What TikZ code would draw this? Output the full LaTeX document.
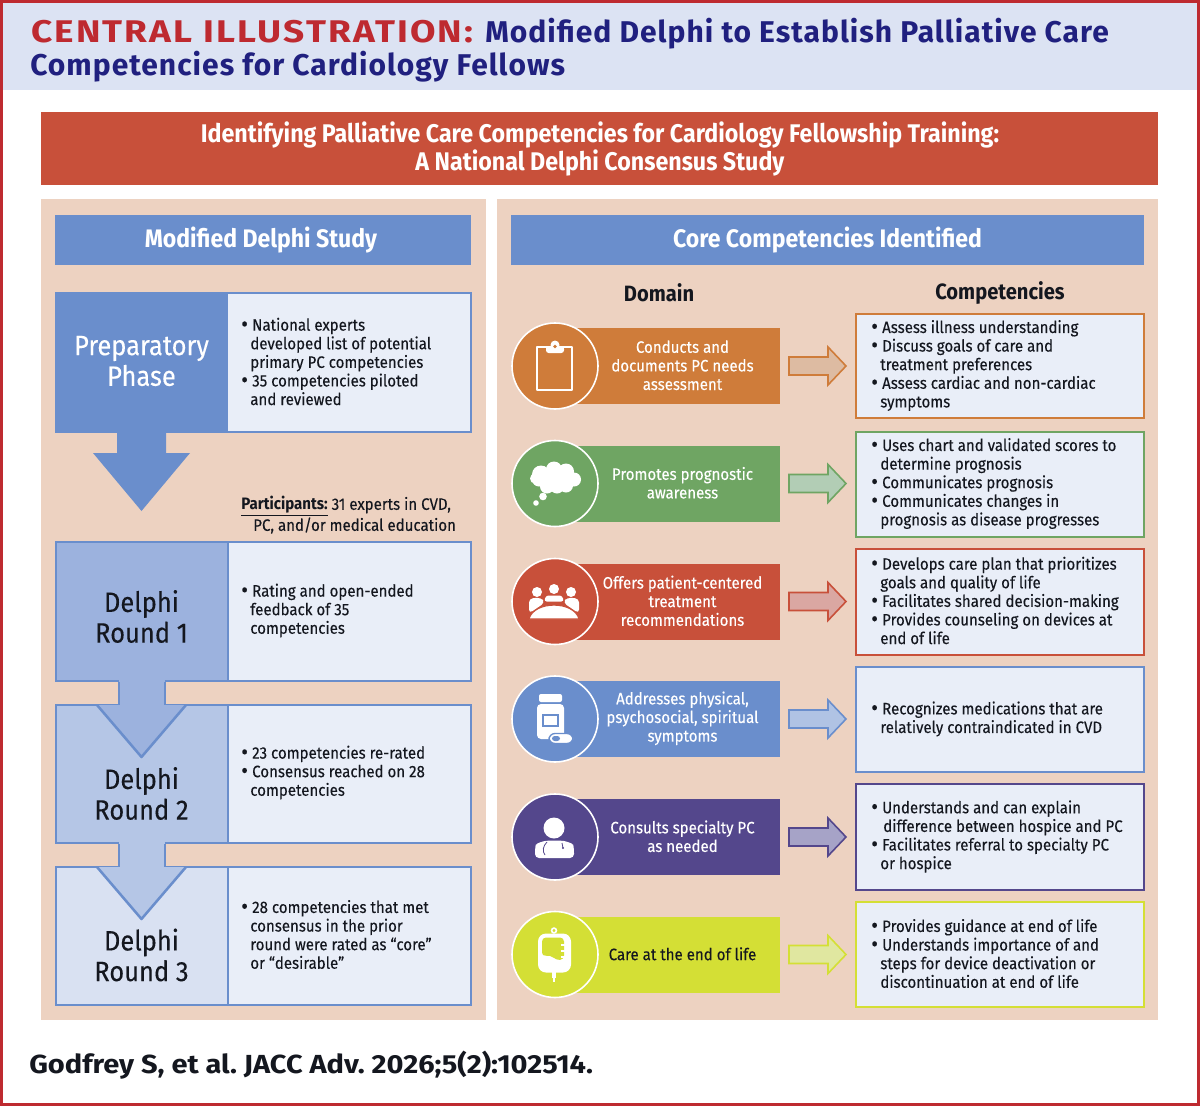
\documentclass[tikz,border=0pt]{standalone}
\usepackage{fontspec}
\setmainfont[FakeStretch=0.91,UprightFeatures={FakeBold=0.2}]{Fira Sans}
\newfontfamily\titlefont[LetterSpace=3.4]{Fira Sans}
\newfontfamily\redfont[FakeStretch=1.18,LetterSpace=6.7]{Fira Sans}
\newfontfamily\citefont[FakeStretch=1.11]{Fira Sans}
\usetikzlibrary{calc}
\definecolor{jred}{HTML}{BE2A30}
\definecolor{headbg}{HTML}{DCE3F3}
\definecolor{navy}{HTML}{20207F}
\definecolor{brick}{HTML}{C8503A}
\definecolor{peach}{HTML}{EDD2C1}
\definecolor{blue1}{HTML}{6A8ECC}
\definecolor{blue2}{HTML}{9CB2DE}
\definecolor{blue3}{HTML}{B5C6E6}
\definecolor{blue4}{HTML}{D9E1F2}
\definecolor{pale}{HTML}{E9EEF8}
\definecolor{ink}{HTML}{14171F}
\definecolor{orng}{HTML}{CF7C3A}
\definecolor{grn}{HTML}{6FA563}
\definecolor{purp}{HTML}{54478C}
\definecolor{yel}{HTML}{D4DF35}
\newcommand{\bl}{\makebox[8.2pt][l]{\smash{\raisebox{-0.8pt}{\fontsize{17}{13}\selectfont •}}}}
\newcommand{\cn}{\hspace*{6.8pt}}
\tikzset{
  px/.style={x=0.75pt,y=-0.75pt},
  body/.style={anchor=west,inner sep=0pt,align=left,text=ink,font=\fontsize{12.4}{13.95}\selectfont},
  dom/.style={anchor=center,inner sep=0pt,align=center,text=white,font=\fontsize{12.4}{13.95}\selectfont},
  big/.style={anchor=center,inner sep=0pt,align=center,font=\fontsize{21}{23}\selectfont},
  hd/.style={anchor=center,inner sep=0pt,align=center,text=white,font=\fontsize{19}{21}\selectfont\bfseries},
  sub/.style={anchor=center,inner sep=0pt,text=ink,font=\fontsize{16.6}{18}\selectfont\bfseries},
  edge/.style={line width=1.9pt,draw=blue1},
}
% \rowdom{name}{y}{colour}{text colour}{text}
\newcommand{\rowdom}[5]{%
  \fill[#3] (570,#2-38) rectangle (780,#2+38);
  \node[dom,text=#4] (#1lab) at (682.5,#2-0.7) {#5};
  \filldraw[#3,draw=white,line width=1.2pt] (555,#2) circle (43);
  \coordinate (#1arr) at (789,#2);
  \filldraw[#3!45!pale,draw=#3,line width=1.2pt]
    (789,#2-9) -- (828,#2-9) -- (828,#2-19) -- (846,#2) -- (828,#2+19) -- (828,#2+9) -- (789,#2+9) -- cycle;
}
\begin{document}
\frenchspacing
\begin{tikzpicture}[px]
\useasboundingbox (0,0) rectangle (1200,1106);
\fill[white] (0,0) rectangle (1200,1106);
\fill[headbg] (0,0) rectangle (1200,90);
\draw[jred,line width=2.4pt] (1.5,1.5) rectangle (1198.5,1104.5);
% title
\node[anchor=base west,inner sep=0pt,font=\fontsize{23.5}{28}\selectfont,text=jred] (t0) at (31,42.5)
  {\redfont\bfseries CENTRAL ILLUSTRATION:};
\node[anchor=base west,inner sep=0pt,font=\fontsize{22.5}{28}\selectfont,text=navy] (t1) at (485,42.5)
  {\titlefont\bfseries Modified Delphi to Establish Palliative Care};
\node[anchor=base west,inner sep=0pt,font=\fontsize{22.5}{28}\selectfont,text=navy] (t2) at (30,76)
  {\titlefont\bfseries Competencies for Cardiology Fellows};
% banner
\fill[brick] (41,112) rectangle (1158,185);
\node[anchor=center,inner sep=0pt,align=center,text=white,font=\fontsize{19.15}{21}\selectfont\bfseries] (banner) at (600,149)
  {Identifying Palliative Care Competencies for Cardiology Fellowship Training:\\A National Delphi Consensus Study};
% panels
\fill[peach] (41,199) rectangle (486,1020);
\fill[peach] (497,199) rectangle (1158,1020);
\fill[blue1] (55,215) rectangle (471,265);
\fill[blue1] (511,215) rectangle (1144,265);
\node[hd] (hl) at (261,240) {Modified Delphi Study};
\node[hd] (hr) at (827.5,240) {Core Competencies Identified};
% left column boxes
\filldraw[pale,edge] (56,293) rectangle (471,432);
\fill[blue1] (55,292) rectangle (228,433);
\filldraw[pale,edge] (56,542) rectangle (471,681);
\filldraw[blue2,edge] (56,542) rectangle (228,681);
\filldraw[pale,edge] (56,705) rectangle (471,843);
\filldraw[blue3,edge] (56,705) rectangle (228,843);
\filldraw[pale,edge] (56,867) rectangle (471,1005);
\filldraw[blue4,edge] (56,867) rectangle (228,1005);
% block arrows
\fill[blue1] (117,433) -- (166,433) -- (166,453) -- (190,453) -- (141.5,511) -- (93,453) -- (117,453) -- cycle;
\fill[blue2] (119,680) rectangle (165,706);
\fill[blue2] (97,705) -- (186,705) -- (141.5,757) -- cycle;
\draw[edge] (119,682) -- (119,705);
\draw[edge] (165,682) -- (165,705);
\draw[edge,line join=round] (97,705) -- (141.5,757) -- (186,705);
\fill[blue3] (119,842) rectangle (165,868);
\fill[blue3] (97,867) -- (186,867) -- (141.5,919) -- cycle;
\draw[edge] (119,844) -- (119,867);
\draw[edge] (165,844) -- (165,867);
\draw[edge,line join=round] (97,867) -- (141.5,919) -- (186,867);
% left labels
\node[big,text=white] (pp) at (141.5,361) {Preparatory\\Phase};
\node[big,text=ink] (r1) at (141.5,616.5) {Delphi\\Round 1};
\node[big,text=ink] (r2) at (141.5,793.5) {Delphi\\Round 2};
\node[big,text=ink] (r3) at (141.5,955) {Delphi\\Round 3};
\node[body] (b0) at (241,361.5) {\bl National experts\\\cn developed list of potential\\\cn primary PC competencies\\\bl 35 competencies piloted\\\cn and reviewed};
\node[body] (part) at (241,515) {\underline{\textbf{Participants:}} 31 experts in CVD,\\\hspace*{9pt}PC, and/or medical education};
\node[body] (b1) at (241,610.5) {\bl Rating and open-ended\\\cn feedback of 35\\\cn competencies};
\node[body] (b2) at (241,772.5) {\bl 23 competencies re-rated\\\bl Consensus reached on 28\\\cn competencies};
\node[body] (b3) at (241,934.5) {\bl 28 competencies that met\\\cn consensus in the prior\\\cn round were rated as “core”\\\cn or “desirable”};
% right column heads
\node[sub] (hdom) at (659,292.5) {Domain};
\node[sub] (hcomp) at (1000,293) {Competencies};
% domain rows
\rowdom{a}{366}{orng}{white}{Conducts and\\documents PC needs\\assessment}
\rowdom{b}{483.5}{grn}{white}{Promotes prognostic\\awareness}
\rowdom{c}{601.5}{brick}{white}{Offers patient-centered\\treatment\\recommendations}
\rowdom{d}{719}{blue1}{white}{Addresses physical,\\psychosocial, spiritual\\symptoms}
\rowdom{e}{837}{purp}{white}{Consults specialty PC\\as needed}
\rowdom{f}{954.5}{yel}{ink}{Care at the end of life}
% competency boxes
\filldraw[pale,draw=orng,line width=1.3pt] (856,314) rectangle (1144,418);
\filldraw[pale,draw=grn,line width=1.3pt] (856,432) rectangle (1144,537);
\filldraw[pale,draw=brick,line width=1.3pt] (856,549) rectangle (1144,655);
\filldraw[pale,draw=blue1,line width=1.3pt] (856,667) rectangle (1144,772);
\filldraw[pale,draw=purp,line width=1.3pt] (856,784) rectangle (1144,890);
\filldraw[pale,draw=yel,line width=1.3pt] (856,902) rectangle (1144,1007);
\node[body] (c1) at (871,365.5) {\bl Assess illness understanding\\\bl Discuss goals of care and\\\cn treatment preferences\\\bl Assess cardiac and non-cardiac\\\cn symptoms};
\node[body] (c2) at (871,483.5) {\bl Uses chart and validated scores to\\\cn determine prognosis\\\bl Communicates prognosis\\\bl Communicates changes in\\\cn prognosis as disease progresses};
\node[body] (c3) at (871,600.5) {\bl Develops care plan that prioritizes\\\cn goals and quality of life\\\bl Facilitates shared decision-making\\\bl Provides counseling on devices at\\\cn end of life};
\node[body] (c4) at (871,719) {\bl Recognizes medications that are\\\cn relatively contraindicated in CVD};
\node[body] (c5) at (871,836.5) {\bl Understands and can explain\\\hspace*{9pt}difference between hospice and PC\\\bl Facilitates referral to specialty PC\\\cn or hospice};
\node[body] (c6) at (871,953.5) {\bl Provides guidance at end of life\\\bl Understands importance of and\\\cn steps for device deactivation or\\\cn discontinuation at end of life};
% icon: clipboard
\begin{scope}[shift={(555,366)}]
  \draw[white,line width=1.6pt,line join=round] (-18,-19) rectangle (17,24);
  \fill[white,rounded corners=2] (-9,-20) rectangle (9,-13);
  \fill[white] (0,-21) circle (4.5);
  \fill[orng] (0,-19.5) circle (1.8);
\end{scope}
% icon: thought cloud
\begin{scope}[shift={(555,483.5)}]
  \foreach \cx/\cy/\rr in {-3/-4/12,-14/-9/9,-16/-4/7,-1/-14/8,11/-12/8,19/-4/7,-8/3/7,2/3/7,11/2/7,-20/-5/5}
    \fill[white] (\cx,\cy) circle (\rr);
  \fill[white] (-12,13) circle (3.8);
  \fill[white] (-19,19.5) circle (2.8);
\end{scope}
% icon: people round a table
\begin{scope}[shift={(555,601.5)}]
  \foreach \hx/\hy in {-18/-9.5,-1/-12.5,16/-9.5} \fill[white] (\hx,\hy) circle (5);
  \fill[white,rounded corners=3] (-26,-3) -- (-14,-4) -- (-10,1) -- (-26,12) -- cycle;
  \fill[white,rounded corners=3] (24,-3) -- (12,-4) -- (8,1) -- (24,12) -- cycle;
  \fill[white,rounded corners=2] (-9,-6) -- (7,-6) -- (9,0) -- (-11,0) -- cycle;
  \draw[brick,line width=0.8pt,fill=white] (-26,17.5) .. controls (-21,-1) and (19,-1) .. (24,17.5) -- cycle;
\end{scope}
% icon: pill bottle
\begin{scope}[shift={(555,719)}]
  \fill[white,rounded corners=1.5] (-16,-25) rectangle (7,-17);
  \fill[white,rounded corners=3] (-18,-15) rectangle (9,20);
  \draw[blue1,line width=1.0pt] (-12,-4) rectangle (3,7);
  \filldraw[white,draw=blue1,line width=1pt,rounded corners=4.5] (-6,14.5) rectangle (18,24.5);
  \fill[blue1,rounded corners=2] (-3,17) rectangle (5,22);
\end{scope}
% icon: doctor
\begin{scope}[shift={(555,837)}]
  \fill[white] (-1,-9) circle (10.5);
  \fill[white,rounded corners=3] (-20,21) -- (-20,12) .. controls (-19,6) and (-10,4) .. (-7,3.5) -- (5,3.5) .. controls (9,4) and (18,6) .. (19,12) -- (19,21) -- cycle;
  \draw[purp,line width=0.6pt] (-8,5) .. controls (-12,9) and (-13,14) .. (-10,18);
  \draw[purp,line width=0.6pt] (7,6) -- (8,11);
  \fill[purp] (8,11) circle (1.2);
\end{scope}
% icon: drip bag
\begin{scope}[shift={(555,954.5)}]
  \draw[white,line width=1.2pt] (-1,-24) circle (2.4);
  \fill[white,rounded corners=6] (-17,-21) rectangle (16,18);
  \fill[yel,rounded corners=3] (-13,-17) -- (9,-17) -- (9,5) .. controls (0,6) and (-3,0) .. (-13,2) -- cycle;
  \foreach \ty in {-11,-5,1} \fill[white] (6,\ty) rectangle (10,\ty+2);
  \fill[white] (-3,17) rectangle (1,23);
  \fill[white] (-2,22) rectangle (0,27);
\end{scope}
% citation
\node[anchor=base west,inner sep=0pt,text=ink,font=\fontsize{19.6}{24}\selectfont] (cite) at (29,1073) {\citefont\bfseries Godfrey S, et al. JACC Adv. 2026;5(2):102514.};
\end{tikzpicture}
\end{document}
